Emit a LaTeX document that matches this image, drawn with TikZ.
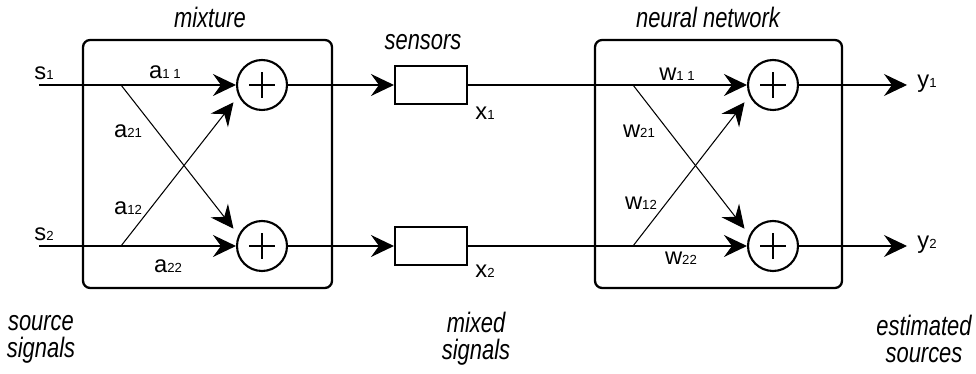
\documentclass[tikz,border=0pt]{standalone}
\usepackage{fontspec}
\setmainfont{Liberation Sans}
\newfontfamily\capfont[FakeStretch=0.78]{Liberation Sans}
\usetikzlibrary{arrows.meta, positioning}
\newcommand{\idx}[1]{{\fontsize{7.5}{7.5}\selectfont #1}}

\begin{document}
\begin{tikzpicture}[
    x=0.02cm, y=-0.02cm,
    every node/.style={font=\fontsize{13.5}{15}\selectfont},
    block/.style={rectangle, draw, line width=1.3pt, rounded corners=4pt, minimum height=4.96cm},
    adder/.style={circle, draw, line width=1.2pt, minimum size=1cm, inner sep=0pt},
    sensor/.style={rectangle, draw, line width=1.2pt, minimum width=1.44cm, minimum height=0.76cm},
    caption/.style={font=\capfont\itshape\fontsize{16}{15.5}\selectfont, align=center},
    wire/.style={line width=0.6pt},
    arrow/.style={wire, -{Stealth[length=0.46cm, width=0.44cm, inset=0.16cm]}}
]
\useasboundingbox (0,0) rectangle (976,374);

% Mixture block
\node[block, minimum width=4.98cm] (mix) at (207.5,164) {};
\node[caption] (mixcap) at (210,17) {mixture};

% Sources and mixing
\coordinate (in1) at (39,85);
\coordinate (in2) at (39,246);
\coordinate (sp1) at (121,85);
\coordinate (sp2) at (121,246);
\node[adder] (sum1) at (262,85) {};
\node[adder] (sum2) at (262,246) {};

% Sensors
\node[sensor] (sen1) at (431,85) {};
\node[sensor] (sen2) at (431,246) {};
\node[caption] (sencap) at (423,42) {sensors};

% Neural network block
\node[block, minimum width=4.94cm] (net) at (718.5,164) {};
\node[caption] (netcap) at (708,17) {neural network};
\coordinate (nsp1) at (633,85);
\coordinate (nsp2) at (633,246);
\node[adder] (sum3) at (773,85) {};
\node[adder] (sum4) at (773,246) {};

% Outputs
\coordinate (out1) at (907,85);
\coordinate (out2) at (907,246);

% Plus signs
\foreach \s in {sum1, sum2, sum3, sum4}
    \draw[wire] ([xshift=-0.26cm]\s.center) -- ([xshift=0.26cm]\s.center)
                ([yshift=-0.26cm]\s.center) -- ([yshift=0.26cm]\s.center);

% Arrows
\draw[arrow] (in1) -- (sum1);
\draw[arrow] (in2) -- (sum2);
\draw[arrow, shorten >=0.16cm] (sp1) -- (sum2.155);
\draw[arrow, shorten >=0.16cm] (sp2) -- (sum1.205);
\draw[arrow] (sum1) -- (sen1);
\draw[arrow] (sum2) -- (sen2);
\draw[arrow] (sen1) -- (sum3);
\draw[arrow] (sen2) -- (sum4);
\draw[arrow, shorten >=0.16cm] (nsp1) -- (sum4.155);
\draw[arrow, shorten >=0.16cm] (nsp2) -- (sum3.205);
\draw[arrow] (sum3) -- (out1);
\draw[arrow] (sum4) -- (out2);

% Signal labels
\node (s1) at (44,73) {s\idx{1}};
\node (s2) at (44,234) {s\idx{2}};
\node (x1) at (485,113) {x\idx{1}};
\node (x2) at (485,271) {x\idx{2}};
\node (y1) at (927,84) {y\idx{1}};
\node (y2) at (927,245) {y\idx{2}};

% Weights
\node (a11) at (165,72) {a\idx{1 1}};
\node (a21) at (128,131) {a\idx{21}};
\node (a12) at (128,208) {a\idx{12}};
\node (a22) at (168,266) {a\idx{22}};
\node (w11) at (677,74) {w\idx{1 1}};
\node (w21) at (639,131) {w\idx{21}};
\node (w12) at (641,203) {w\idx{12}};
\node (w22) at (681,258) {w\idx{22}};

% Bottom captions
\node[caption] (srccap) at (41,339) {source\\signals};
\node[caption] (mixedcap) at (476,339) {mixed\\signals};
\node[caption] (estcap) at (924,339) {estimated\\sources};

\end{tikzpicture}
\end{document}
